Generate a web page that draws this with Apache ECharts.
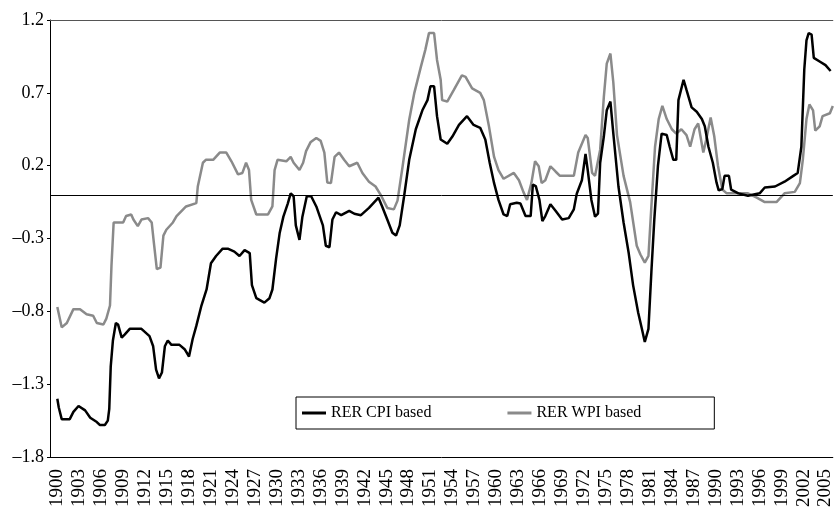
<!DOCTYPE html>
<html>
<head>
<meta charset="utf-8">
<script src="https://cdn.jsdelivr.net/npm/echarts@6/dist/echarts.min.js"></script>
<style>
  html, body { margin: 0; padding: 0; background: #fff; }
  #chart { width: 835px; height: 510px; }
</style>
</head>
<body>
<div id="chart"></div>
<script>
// tick labels
const yearLabels = [];
for (let y = 1900; y <= 2005; y += 3) yearLabels.push(y);

// RER CPI based
const cpiYears = [1900.0, 1900.2, 1900.6, 1901.7, 1902.2, 1902.9, 1903.8, 1904.5, 1905.4, 1905.8, 1906.5, 1906.9, 1907.1, 1907.3, 1907.6, 1908.0, 1908.3, 1908.8, 1909.2, 1909.9, 1911.5, 1912.6, 1913.1, 1913.5, 1913.9, 1914.3, 1914.7, 1915.1, 1915.6, 1916.7, 1917.4, 1918.0, 1918.5, 1919.0, 1919.7, 1920.4, 1921.0, 1921.7, 1922.6, 1923.3, 1924.2, 1924.9, 1925.6, 1926.3, 1926.6, 1927.2, 1928.3, 1929.0, 1929.4, 1929.9, 1930.4, 1930.9, 1931.5, 1931.9, 1932.3, 1932.6, 1933.1, 1933.5, 1934.1, 1934.7, 1935.4, 1936.3, 1936.7, 1937.2, 1937.6, 1938.1, 1938.8, 1939.9, 1940.6, 1941.5, 1942.6, 1943.9, 1944.4, 1945.1, 1945.8, 1946.3, 1946.8, 1947.4, 1948.1, 1949.0, 1949.9, 1950.6, 1951.0, 1951.5, 1951.9, 1952.4, 1953.3, 1954.0, 1954.9, 1956.0, 1956.9, 1957.8, 1958.5, 1959.1, 1959.7, 1960.3, 1961.0, 1961.5, 1961.9, 1962.8, 1963.3, 1964.0, 1964.7, 1965.0, 1965.4, 1965.9, 1966.3, 1966.7, 1967.4, 1968.1, 1969.0, 1969.9, 1970.6, 1971.0, 1971.7, 1972.2, 1972.5, 1973.0, 1973.5, 1973.9, 1974.2, 1974.7, 1975.1, 1975.6, 1976.0, 1976.7, 1977.4, 1978.1, 1978.7, 1979.4, 1979.9, 1980.3, 1980.8, 1981.2, 1981.6, 1982.1, 1982.6, 1983.3, 1983.7, 1984.2, 1984.6, 1984.9, 1985.6, 1986.0, 1986.7, 1987.4, 1988.1, 1988.5, 1989.0, 1989.6, 1990.1, 1990.4, 1990.9, 1991.2, 1991.8, 1992.1, 1993.1, 1994.4, 1996.0, 1996.7, 1998.1, 1999.4, 2000.6, 2001.2, 2001.7, 2002.1, 2002.4, 2002.7, 2003.1, 2003.4, 2004.2, 2005.0, 2005.7];
const cpiValues = [-1.40, -1.46, -1.54, -1.54, -1.49, -1.45, -1.48, -1.53, -1.56, -1.58, -1.58, -1.55, -1.47, -1.18, -1.00, -0.88, -0.89, -0.98, -0.96, -0.92, -0.92, -0.97, -1.04, -1.20, -1.26, -1.22, -1.04, -1.00, -1.03, -1.03, -1.06, -1.11, -0.99, -0.90, -0.76, -0.65, -0.47, -0.42, -0.37, -0.37, -0.39, -0.42, -0.38, -0.40, -0.62, -0.71, -0.74, -0.71, -0.65, -0.44, -0.26, -0.15, -0.06, 0.01, -0.01, -0.21, -0.31, -0.15, -0.01, -0.01, -0.08, -0.21, -0.35, -0.36, -0.17, -0.12, -0.14, -0.11, -0.13, -0.14, -0.09, -0.02, -0.08, -0.17, -0.26, -0.28, -0.21, -0.01, 0.24, 0.45, 0.58, 0.65, 0.745, 0.745, 0.54, 0.38, 0.35, 0.40, 0.48, 0.54, 0.48, 0.46, 0.38, 0.22, 0.08, -0.035, -0.135, -0.146, -0.065, -0.055, -0.06, -0.146, -0.146, 0.07, 0.06, -0.035, -0.18, -0.146, -0.065, -0.11, -0.17, -0.16, -0.10, 0.007, 0.10, 0.28, 0.17, -0.035, -0.15, -0.13, 0.22, 0.40, 0.58, 0.64, 0.42, 0.057, -0.19, -0.40, -0.62, -0.81, -0.92, -1.01, -0.92, -0.53, -0.17, 0.20, 0.42, 0.41, 0.33, 0.24, 0.24, 0.65, 0.79, 0.72, 0.60, 0.57, 0.52, 0.47, 0.33, 0.22, 0.085, 0.03, 0.04, 0.13, 0.13, 0.036, 0.01, -0.007, 0.01, 0.05, 0.057, 0.09, 0.13, 0.15, 0.33, 0.86, 1.06, 1.11, 1.10, 0.94, 0.915, 0.89, 0.85];

// RER WPI based
const wpiYears = [1900.0, 1900.6, 1901.3, 1902.2, 1903.1, 1904.0, 1904.9, 1905.4, 1906.3, 1906.7, 1907.2, 1907.4, 1907.7, 1909.0, 1909.4, 1910.1, 1910.4, 1911.0, 1911.5, 1912.4, 1912.9, 1913.2, 1913.6, 1914.1, 1914.5, 1914.9, 1915.8, 1916.3, 1917.2, 1917.6, 1919.0, 1919.2, 1919.9, 1920.3, 1921.3, 1922.2, 1923.1, 1923.8, 1924.7, 1925.3, 1925.8, 1926.2, 1926.5, 1927.2, 1928.8, 1929.4, 1929.7, 1930.1, 1931.3, 1931.9, 1932.3, 1933.1, 1933.6, 1934.0, 1934.6, 1935.4, 1936.0, 1936.5, 1936.9, 1937.4, 1937.9, 1938.5, 1939.2, 1939.9, 1941.0, 1941.7, 1942.6, 1943.5, 1944.2, 1945.1, 1946.0, 1946.5, 1947.2, 1948.1, 1948.8, 1949.7, 1950.3, 1950.8, 1951.5, 1951.9, 1952.4, 1952.6, 1953.3, 1954.2, 1955.3, 1955.8, 1956.7, 1957.8, 1958.3, 1959.0, 1959.7, 1960.3, 1961.0, 1962.4, 1963.1, 1963.7, 1964.2, 1964.8, 1965.3, 1965.8, 1966.2, 1966.7, 1967.4, 1968.1, 1968.7, 1970.6, 1971.2, 1972.2, 1972.5, 1973.1, 1973.5, 1974.2, 1974.7, 1975.1, 1975.6, 1976.0, 1976.5, 1977.4, 1978.3, 1979.2, 1979.7, 1980.3, 1980.8, 1981.2, 1981.7, 1982.2, 1982.7, 1983.3, 1984.0, 1984.6, 1985.3, 1986.0, 1986.5, 1987.1, 1987.6, 1988.3, 1988.7, 1989.3, 1989.8, 1990.3, 1990.9, 1991.5, 1994.4, 1995.6, 1996.7, 1998.3, 1999.4, 2000.8, 2001.5, 2001.9, 2002.4, 2002.8, 2003.3, 2003.6, 2004.2, 2004.6, 2005.6, 2006.0];
const wpiValues = [-0.77, -0.91, -0.88, -0.785, -0.785, -0.82, -0.83, -0.88, -0.89, -0.85, -0.76, -0.49, -0.19, -0.19, -0.146, -0.135, -0.17, -0.215, -0.17, -0.16, -0.19, -0.33, -0.51, -0.50, -0.28, -0.24, -0.19, -0.146, -0.10, -0.08, -0.057, 0.057, 0.22, 0.24, 0.24, 0.29, 0.29, 0.23, 0.14, 0.15, 0.22, 0.17, -0.035, -0.135, -0.135, -0.08, 0.17, 0.24, 0.23, 0.26, 0.22, 0.17, 0.22, 0.30, 0.36, 0.39, 0.37, 0.29, 0.085, 0.08, 0.26, 0.29, 0.24, 0.196, 0.22, 0.15, 0.09, 0.057, 0.0, -0.09, -0.10, -0.04, 0.196, 0.515, 0.70, 0.88, 0.995, 1.11, 1.11, 0.926, 0.79, 0.65, 0.64, 0.72, 0.82, 0.81, 0.73, 0.70, 0.65, 0.47, 0.26, 0.17, 0.11, 0.15, 0.10, 0.02, -0.035, 0.08, 0.23, 0.196, 0.08, 0.10, 0.196, 0.16, 0.13, 0.13, 0.29, 0.41, 0.39, 0.15, 0.13, 0.31, 0.67, 0.90, 0.97, 0.77, 0.41, 0.13, -0.05, -0.35, -0.41, -0.465, -0.42, -0.08, 0.33, 0.52, 0.61, 0.52, 0.45, 0.42, 0.45, 0.41, 0.33, 0.45, 0.49, 0.29, 0.38, 0.53, 0.40, 0.20, 0.036, 0.01, 0.01, -0.02, -0.05, -0.05, 0.01, 0.02, 0.08, 0.24, 0.52, 0.62, 0.58, 0.44, 0.47, 0.54, 0.56, 0.61];

const seriesNames = ['RER CPI based', 'RER WPI based'];

const pairs = (xs, ys) => xs.map((x, i) => [x, ys[i]]);
const serif = '"Liberation Serif", "Times New Roman", serif';

const chart = echarts.init(document.getElementById('chart'));

const option = {
  animation: false,
  backgroundColor: '#fff',
  textStyle: { fontFamily: serif },
  grid: { left: 50, right: 0, top: 20, bottom: 52 },
  legend: {
    data: seriesNames,
    left: 296,
    top: 397,
    orient: 'horizontal',
    icon: 'rect',
    borderColor: '#000',
    borderWidth: 1,
    borderRadius: 0,
    padding: [8, 73, 8, 6],
    itemWidth: 24,
    itemHeight: 3,
    itemGap: 76,
    itemStyle: { borderWidth: 0 },
    textStyle: { fontFamily: serif, fontSize: 16, color: '#000', padding: [3, 0, 0, 0] }
  },
  xAxis: [
    {
      type: 'value',
      min: 1899,
      max: 2006,
      axisLine: { show: true, onZero: false, lineStyle: { color: '#000', width: 1 } },
      axisTick: { show: false },
      splitLine: { show: false },
      axisLabel: {
        customValues: yearLabels,
        rotate: 90,
        margin: 12,
        fontFamily: serif,
        fontSize: 19,
        color: '#000',
        formatter: v => String(v)
      }
    },
    {
      type: 'value',
      position: 'top',
      min: 1899,
      max: 2006,
      axisLine: { show: true, onZero: false, lineStyle: { color: '#555', width: 1 } },
      axisTick: { show: false },
      axisLabel: { show: false },
      splitLine: { show: false }
    }
  ],
  yAxis: {
    type: 'value',
    min: -1.8,
    max: 1.2,
    interval: 0.5,
    axisLine: { show: true, lineStyle: { color: '#000', width: 1 } },
    axisTick: { show: true, length: 3, lineStyle: { color: '#000' } },
    splitLine: { show: false },
    axisLabel: {
      margin: 6,
      fontFamily: serif,
      fontSize: 18,
      color: '#000',
      formatter: v => (Math.round(v * 10) / 10).toFixed(1).replace('-', '\u2013')
    }
  },
  series: [
    {
      name: seriesNames[1],
      type: 'line',
      symbol: 'none',
      data: pairs(wpiYears, wpiValues),
      lineStyle: { color: '#8a8a8a', width: 2.5 },
      itemStyle: { color: '#8a8a8a' },
      z: 2
    },
    {
      name: seriesNames[0],
      type: 'line',
      symbol: 'none',
      data: pairs(cpiYears, cpiValues),
      lineStyle: { color: '#000', width: 2.5 },
      itemStyle: { color: '#000' },
      z: 3,
      markLine: {
        silent: true,
        symbol: 'none',
        label: { show: false },
        lineStyle: { color: '#000', width: 1, type: 'solid' },
        data: [{ yAxis: 0 }]
      }
    }
  ]
};

chart.setOption(option);
</script>
</body>
</html>
